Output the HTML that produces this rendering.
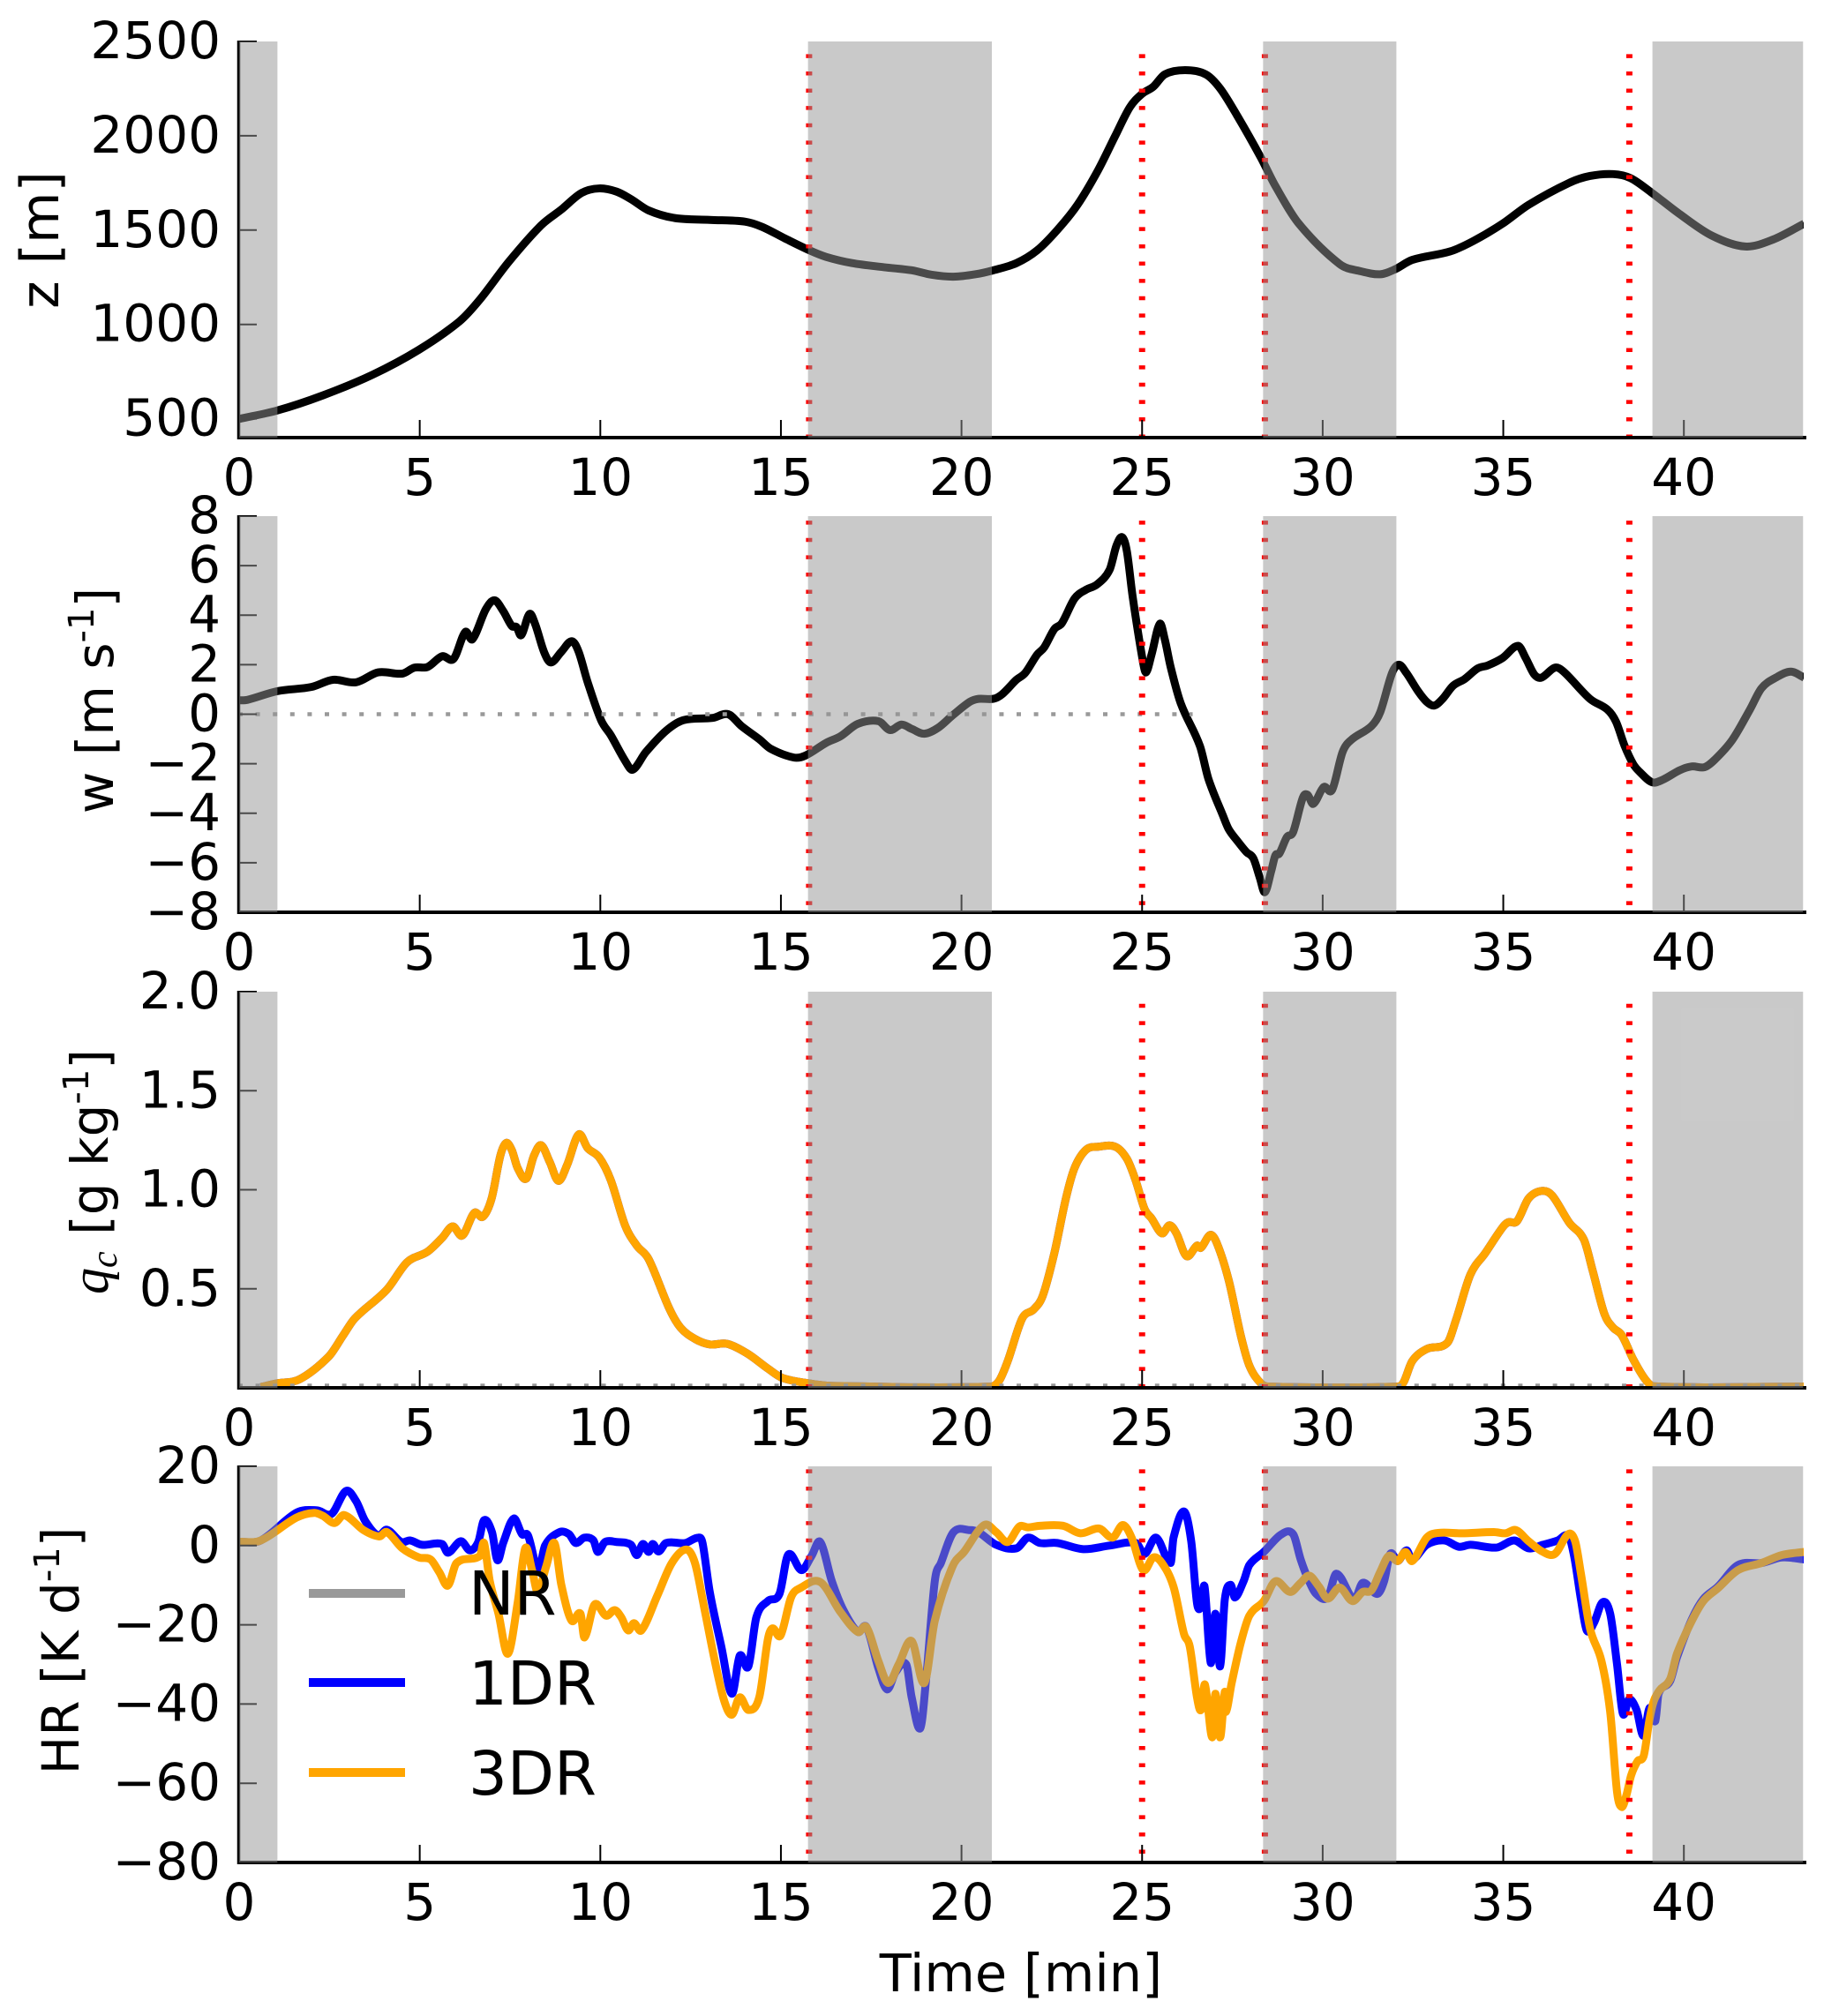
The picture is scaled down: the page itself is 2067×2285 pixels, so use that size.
<!DOCTYPE html>
<html lang="en">
<head>
<meta charset="utf-8">
<title>Cloud parcel time series</title>
<style>
html,body{margin:0;padding:0;background:#fff;}
svg{display:block;}
text{font-family:"DejaVu Sans","Liberation Sans",sans-serif;fill:#000;}
</style>
</head>
<body>
<svg id="figure" xmlns="http://www.w3.org/2000/svg" width="2067" height="2285" viewBox="0 0 2067 2285">
  <defs id="clips"></defs>
  <g id="plots"></g>
  <g id="titles">
    <text transform="translate(66,272) rotate(-90)" text-anchor="middle" font-size="60">z [m]</text>
    <text transform="translate(128,794) rotate(-90)" text-anchor="middle" font-size="58">w [m s<tspan font-size="40" dy="-22">-1</tspan><tspan dy="22">]</tspan></text>
    <text transform="translate(122,1328) rotate(-90)" text-anchor="middle" font-size="58"><tspan font-family="Liberation Serif" font-style="italic" font-size="60">q</tspan><tspan font-family="Liberation Serif" font-style="italic" font-size="42" dy="10">c</tspan><tspan dy="-10"> [g kg</tspan><tspan font-size="40" dy="-22">-1</tspan><tspan dy="22">]</tspan></text>
    <text transform="translate(89,1871) rotate(-90)" text-anchor="middle" font-size="58">HR [K d<tspan font-size="40" dy="-22">-1</tspan><tspan dy="22">]</tspan></text>
    <text x="1157" y="2257" text-anchor="middle" font-size="59">Time [min]</text>
  </g>
  <g id="legend">
    <g>
      <line x1="350" x2="459" y1="1806" y2="1806" stroke="#999999" stroke-width="10"></line>
      <text x="531" y="1830" font-size="69">NR</text>
    </g>
    <g>
      <line x1="350" x2="459" y1="1907" y2="1907" stroke="#0000ff" stroke-width="10"></line>
      <text x="531" y="1932" font-size="69">1DR</text>
    </g>
    <g>
      <line x1="350" x2="459" y1="2009" y2="2009" stroke="#ffa500" stroke-width="10"></line>
      <text x="531" y="2034" font-size="69">3DR</text>
    </g>
  </g>
</svg>
<script>
// ---- data ----
const xTickValues = [0,5,10,15,20,25,30,35,40];
const zTickValues = [500,1000,1500,2000,2500];
const wTickValues = [-8,-6,-4,-2,0,2,4,6,8];
const qcTickValues = [0.5,1.0,1.5,2.0];
const hrTickValues = [-80,-60,-40,-20,0,20];
const shadedStart = [0,15.75,28.35,39.13];
const shadedEnd = [1.06,20.84,32.04,43.3];
const eventTimes = [15.78,25.0,28.4,38.49];

const zTime = [0,1.06,2.32,3.69,4.98,6.1,6.67,7.47,8.36,8.92,9.48,9.97,10.45,10.85,11.34,12.06,13.03,14,14.48,15.12,15.8,16.25,16.97,17.86,18.62,19.18,19.78,20.39,20.88,21.52,22.09,22.65,23.21,23.78,24.26,24.66,24.99,25.31,25.63,26.19,26.76,27.16,27.65,28.29,28.69,29.34,30.47,31.03,31.59,32,32.48,33.53,34.17,34.98,35.7,36.83,37.4,38.04,38.52,39.09,39.89,40.78,41.7,42.47,43.33];
const zValues = [499,544,624,733,866,1016,1133,1333,1525,1609,1697,1721,1704,1664,1604,1564,1554,1545,1517,1455,1392,1358,1325,1303,1287,1263,1253,1266,1287,1325,1392,1500,1634,1817,2001,2151,2221,2260,2326,2348,2326,2251,2101,1884,1734,1534,1320,1283,1266,1292,1342,1387,1442,1534,1634,1751,1787,1797,1776,1701,1584,1470,1413,1450,1534];

const wTime = [0,.23,1.06,2.0,2.6,3.24,3.85,4.52,4.85,5.22,5.62,5.94,6.26,6.46,6.83,7.07,7.31,7.55,7.68,7.81,8.04,8.2,8.44,8.63,8.92,9.21,9.4,9.65,10.02,10.29,10.69,10.9,11.26,11.82,12.3,13.11,13.54,13.91,14.4,14.72,15.36,15.68,16.25,16.65,17.13,17.7,18.02,18.34,18.63,18.97,19.35,19.75,20.23,20.47,20.88,21.12,21.52,21.76,22.09,22.29,22.57,22.78,23.13,23.45,23.75,24.1,24.29,24.45,24.58,24.74,25.02,25.11,25.26,25.49,25.63,25.79,26.07,26.6,26.84,27.24,27.4,27.65,27.89,28.08,28.26,28.4,28.58,28.69,28.8,29.01,29.18,29.45,29.58,29.74,30.03,30.26,30.55,30.79,31.35,31.59,31.92,32.11,32.32,32.64,32.88,33.09,33.32,33.61,33.93,34.29,34.57,34.98,35.41,35.62,35.86,36.06,36.43,36.67,37.4,37.88,38.12,38.36,38.6,38.77,39.12,39.41,39.89,40.22,40.57,40.86,41.34,41.83,42.15,42.55,42.96,43.33];
const wValues = [.56,.58,.93,1.1,1.39,1.29,1.69,1.64,1.88,1.91,2.34,2.24,3.32,3.03,4.24,4.6,4.17,3.56,3.52,3.19,4.05,3.62,2.52,2.09,2.52,2.95,2.52,1.29,-.24,-.85,-1.89,-2.24,-1.53,-.67,-.24,-.15,0,-.48,-1.01,-1.4,-1.75,-1.67,-1.16,-.89,-.39,-.28,-.64,-.42,-.6,-.79,-.55,-.05,.5,.62,.62,.8,1.39,1.66,2.4,2.7,3.44,3.68,4.67,5.03,5.24,5.83,6.81,7.15,6.57,4.73,2.15,1.69,2.4,3.65,3.01,1.91,.44,-1.28,-2.63,-4.1,-4.65,-5.14,-5.57,-5.82,-6.61,-7.19,-6.31,-5.7,-5.63,-4.96,-4.77,-3.37,-3.25,-3.62,-2.94,-3.06,-1.53,-1.04,-.48,.07,1.66,2.0,1.66,.93,.5,.35,.62,1.15,1.42,1.85,1.97,2.27,2.76,2.27,1.6,1.48,1.88,1.72,.62,.19,-.3,-1.28,-2.02,-2.32,-2.75,-2.65,-2.26,-2.11,-2.14,-1.83,-1.04,.19,1.05,1.48,1.72,1.48];

const qcTime = [.6,1.06,1.67,2.48,2.88,3.2,4.09,4.65,5.22,5.62,5.91,6.18,6.51,6.75,6.99,7.23,7.39,7.55,7.71,7.95,8.16,8.36,8.6,8.84,9.08,9.4,9.65,9.97,10.29,10.69,11.01,11.34,11.9,12.22,12.62,13.03,13.51,14.07,14.64,15.04,15.76,16.4,20.8,21.04,21.28,21.68,22.0,22.25,22.57,22.89,23.13,23.45,23.78,24.26,24.58,24.82,25.07,25.26,25.55,25.76,25.95,26.23,26.52,26.63,26.89,27.08,27.4,27.73,27.97,28.29,28.53,32.08,32.24,32.48,32.88,33.45,33.69,34.09,34.5,34.98,35.14,35.38,35.7,36.06,36.35,36.83,37.23,37.48,37.8,38.04,38.28,38.6,38.93,39.17,43.33];
const qcValues = [.004,.023,.043,.158,.265,.35,.496,.634,.688,.757,.815,.769,.883,.864,.956,1.171,1.236,1.2,1.11,1.056,1.171,1.225,1.14,1.045,1.125,1.279,1.21,1.163,1.048,.818,.718,.649,.404,.304,.247,.219,.222,.173,.097,.05,.023,.01,.006,.035,.135,.35,.396,.465,.68,.956,1.11,1.202,1.217,1.217,1.156,1.048,.902,.856,.78,.821,.78,.665,.718,.707,.772,.726,.542,.266,.112,.023,.006,.006,.028,.135,.196,.227,.342,.572,.68,.81,.836,.841,.956,.994,.972,.833,.749,.588,.373,.304,.266,.143,.043,.008,.006];

const hr1drTime = [0,.6,1.59,2.16,2.56,2.96,3.24,3.49,3.85,4.09,4.49,4.73,5.06,5.62,5.78,6.14,6.39,6.62,6.78,7,7.15,7.31,7.6,7.83,8,8.28,8.47,8.87,9.13,9.32,9.56,9.81,9.93,10.13,10.45,10.85,11.01,11.18,11.34,11.45,11.61,11.82,12.35,12.71,12.83,13.03,13.35,13.64,13.86,14.1,14.32,14.64,14.96,15.2,15.57,15.85,16.09,16.41,16.73,17.13,17.37,17.7,17.94,18.18,18.47,18.62,18.86,19.02,19.26,19.43,19.78,20.23,20.47,20.96,21.52,21.84,22.17,22.65,23.37,24.1,24.83,25.07,25.39,25.79,25.87,26.16,26.36,26.52,26.63,26.73,26.9,27.03,27.16,27.29,27.45,27.57,27.81,27.97,28.37,28.85,29.18,29.39,29.58,29.82,30.14,30.38,30.87,31.11,31.51,31.7,31.87,32.08,32.32,32.48,32.88,33.37,33.77,34.09,34.82,35.3,35.7,36.1,36.51,36.8,36.96,37.15,37.31,37.51,37.75,37.96,38.15,38.31,38.48,38.69,38.88,39.05,39.21,39.3,39.62,39.81,40.22,40.54,40.94,41.5,42.15,42.71,43.33];
const hr1drValues = [.93,1.3,8.3,8.9,8,13.8,11.2,6.2,2.5,4,.9,1.3,.2,.4,-1.8,1.1,-1.2,.9,6.4,3.4,-3.7,.65,6.8,2.9,2.5,-6.2,0,3.4,2.9,.65,2,1.3,-1.6,.9,.9,.2,-2.4,.4,-1.6,.4,-1.5,.65,.65,2,.65,-11.7,-25.5,-37.4,-27.8,-30.5,-18.1,-14,-12.2,-2.3,-6.2,-2.6,.9,-9,-16.3,-21.8,-20.6,-31,-36.3,-31.9,-30,-38.3,-46.1,-33.7,-9,-4.4,3.4,3.9,3.4,.2,-.7,2,.65,.65,-.9,0,.65,-2.1,2,-4.4,2,8.6,1.1,-14.5,-15.4,-10.4,-29.6,-17.2,-30.5,-13.6,-9.9,-13.1,-9,-4.9,-1.6,2.8,2.9,-3.5,-8.1,-12.2,-13.1,-7.1,-13.6,-9.4,-12.2,-9,-2.1,-3.9,-1.2,-3.6,.2,1.3,-.3,.2,-.5,1.3,-.7,.2,1.3,2.4,-2.6,-13.6,-21.4,-19.5,-14.3,-17.2,-30,-42.4,-38.8,-41.5,-48,-41,-44.3,-37.4,-34.2,-28.2,-18.6,-13.5,-10.4,-4.9,-4.4,-3,-3.5];

const hr3drTime = [0,.6,1.59,2.08,2.32,2.64,2.91,3.45,3.88,4.09,4.52,4.98,5.3,5.54,5.78,6.02,6.67,6.78,6.94,7.18,7.44,7.71,7.92,8.11,8.27,8.5,8.73,8.92,9.2,9.45,9.56,9.84,10.16,10.4,10.58,10.77,10.93,11.14,11.58,11.98,12.38,12.62,12.87,13.19,13.43,13.64,13.86,14.1,14.4,14.64,14.77,14.99,15.28,15.52,16.09,16.65,17.13,17.37,17.7,17.97,18.26,18.62,18.97,19.26,19.75,20.07,20.63,20.96,21.28,21.6,21.84,22.17,22.81,23.29,23.81,24.18,24.47,24.71,25.03,25.31,25.55,25.87,26.16,26.32,26.52,26.63,26.74,26.94,27.03,27.16,27.29,27.32,27.48,27.73,27.97,28.37,28.69,29.1,29.39,29.63,29.9,30.14,30.47,30.82,31.11,31.35,31.59,31.83,32.08,32.29,32.48,32.88,33.2,33.85,34.74,35.06,35.35,35.7,36.1,36.43,36.8,36.99,37.15,37.4,37.72,37.96,38.15,38.28,38.41,38.54,38.72,38.89,39.05,39.17,39.33,39.62,39.81,40.22,40.54,40.94,41.5,42.15,42.71,43.33];
const hr3drValues = [.93,1.3,7.07,8.26,7.5,5.7,7.7,3.86,2.3,3.4,-.7,-3,-3.5,-6.7,-10.1,-4.4,-2.6,.65,-9,-17.2,-27.3,-14.5,-.7,-6.2,-11.7,-5.3,.65,-9.9,-18.9,-17.2,-23.2,-14.9,-17.7,-16.3,-18.1,-21.4,-19.6,-21.4,-12.6,-4.4,-1,-4.4,-15.4,-30,-39.2,-42.7,-38.3,-41.5,-38.3,-23.6,-20.9,-22.7,-13.1,-10.8,-9.2,-16.8,-21.8,-20.6,-29.2,-34.7,-30,-24.1,-34.7,-19,-5.3,-1.6,5.2,3.4,.9,4.8,4.6,5,5,3.1,4.3,2,5.2,2,-6.2,-3,-4.4,-10.4,-22.3,-25.5,-38.3,-41.5,-35.1,-48.4,-37.4,-48.4,-36.9,-42,-34.7,-24.6,-17.7,-14,-9,-11.7,-9.4,-7.6,-10.4,-13.4,-10.6,-14,-11.7,-11.3,-6.7,-2.6,-3.9,-1.6,-3.9,2,3.2,3.1,3.4,3.1,3.9,1.1,-1.6,-2.1,2.9,1.1,-7.1,-20.9,-29.2,-42,-62.2,-66,-63,-58,-54.4,-53,-43.8,-39.2,-36.5,-33.7,-27.3,-19,-14,-10.8,-6.2,-4.4,-2.4,-1.6];

// ---- axis functions ----
const SVGNS = 'http://www.w3.org/2000/svg';
const X0 = 271, PX_PER_MIN = 40.93, XEND = 2044;
function xPos(t){ return X0 + t * PX_PER_MIN; }
function yScale(top, vmin, vmax){ return function(v){ return top + 449 * (vmax - v) / (vmax - vmin); }; }
function make(tag, parent){ const e = document.createElementNS(SVGNS, tag); parent.appendChild(e); return e; }
// smooth curve through the data points (cubic Hermite with neighbour slopes)
function pathOf(times, values, y){
  const n = times.length;
  const px = [], py = [], m = [];
  for (let i = 0; i < n; i++) { px.push(xPos(times[i])); py.push(y(values[i])); }
  for (let i = 0; i < n; i++) {
    const a = Math.max(i - 1, 0), b = Math.min(i + 1, n - 1);
    m.push((py[b] - py[a]) / (px[b] - px[a]));
  }
  let d = 'M' + px[0].toFixed(2) + ' ' + py[0].toFixed(2);
  for (let i = 0; i < n - 1; i++) {
    const h = (px[i + 1] - px[i]) / 3;
    d += 'C' + (px[i] + h).toFixed(2) + ' ' + (py[i] + m[i] * h).toFixed(2) + ' ' +
         (px[i + 1] - h).toFixed(2) + ' ' + (py[i + 1] - m[i + 1] * h).toFixed(2) + ' ' +
         px[i + 1].toFixed(2) + ' ' + py[i + 1].toFixed(2);
  }
  return d;
}
function minusFmt(v){ return v < 0 ? '\u2212' + Math.abs(v) : String(v); }

const plots = document.getElementById('plots');
const defs = document.getElementById('clips');

function drawPanel(key, top, vmin, vmax, yTicks, fmt, firstDotOffset, series, guide){
  const y = yScale(top, vmin, vmax);
  const bottom = top + 449;
  const g = make('g', plots);
  
  

  const clip = make('clipPath', defs);
  clip.setAttribute('id', 'clip-' + key);
  const cr = make('rect', clip);
  cr.setAttribute('x', X0);
  cr.setAttribute('y', top);
  cr.setAttribute('width', XEND - X0);
  cr.setAttribute('height', 449);

  // series
  series.forEach(function(s){
    const p = make('path', g);
    
    
    p.setAttribute('d', pathOf(s.t, s.v, y));
    p.setAttribute('fill', 'none');
    p.setAttribute('stroke', s.color);
    p.setAttribute('stroke-width', '9');
    p.setAttribute('stroke-linejoin', 'round');
    p.setAttribute('clip-path', 'url(#clip-' + key + ')');
  });

  // gray dotted guide
  if (guide) {
    const gl = make('line', g);
    
    
    gl.setAttribute('x1', 270);
    gl.setAttribute('x2', xPos(guide.end));
    gl.setAttribute('y1', y(guide.value));
    gl.setAttribute('y2', y(guide.value));
    gl.setAttribute('stroke', '#999999');
    gl.setAttribute('stroke-width', guide.width);
    gl.setAttribute('stroke-dasharray', '5 14.6');
  }

  // red event lines
  eventTimes.forEach(function(t){
    const r = make('line', g);
    
    
    r.setAttribute('x1', xPos(t));
    r.setAttribute('x2', xPos(t));
    r.setAttribute('y1', top + firstDotOffset - 2.25);
    r.setAttribute('y2', bottom);
    r.setAttribute('stroke', '#ff0000');
    r.setAttribute('stroke-width', '7');
    r.setAttribute('stroke-dasharray', '4.5 15.1');
  });

  // ticks and labels
  xTickValues.forEach(function(t){
    const tk = make('line', g);
    
    
    tk.setAttribute('x1', xPos(t));
    tk.setAttribute('x2', xPos(t));
    tk.setAttribute('y1', bottom);
    tk.setAttribute('y2', bottom - 20);
    tk.setAttribute('stroke', '#000');
    tk.setAttribute('stroke-width', '2');
    const lb = make('text', g);
    
    
    lb.setAttribute('x', xPos(t));
    lb.setAttribute('y', bottom + 65);
    lb.setAttribute('text-anchor', 'middle');
    lb.setAttribute('font-size', '58');
    lb.textContent = String(t);
  });
  yTicks.forEach(function(v){
    const tk = make('line', g);
    
    
    tk.setAttribute('x1', X0);
    tk.setAttribute('x2', X0 + 20);
    tk.setAttribute('y1', y(v));
    tk.setAttribute('y2', y(v));
    tk.setAttribute('stroke', '#000');
    tk.setAttribute('stroke-width', '2');
    const lb = make('text', g);
    
    
    lb.setAttribute('x', 250);
    lb.setAttribute('y', y(v) + 19);
    lb.setAttribute('text-anchor', 'end');
    lb.setAttribute('font-size', '58');
    lb.textContent = fmt(v);
  });

  // spines
  const sb = make('line', g);
  
  
  sb.setAttribute('x1', 269);
  sb.setAttribute('x2', 2047);
  sb.setAttribute('y1', bottom);
  sb.setAttribute('y2', bottom);
  sb.setAttribute('stroke', '#000');
  sb.setAttribute('stroke-width', '4');
  const sl = make('line', g);
  
  
  sl.setAttribute('x1', 270.5);
  sl.setAttribute('x2', 270.5);
  sl.setAttribute('y1', top - 1);
  sl.setAttribute('y2', bottom + 2);
  sl.setAttribute('stroke', '#000');
  sl.setAttribute('stroke-width', '3.5');

  // translucent shaded periods, on top of everything in the axes
  shadedStart.forEach(function(s, i){
    const b = make('rect', g);
    
    
    const x1 = i === 0 ? X0 : xPos(s);
    b.setAttribute('x', x1);
    b.setAttribute('y', top);
    b.setAttribute('width', xPos(shadedEnd[i]) - x1);
    b.setAttribute('height', 449);
    b.setAttribute('fill', 'rgb(148,148,148)');
    b.setAttribute('fill-opacity', '0.5');
  });
}

drawPanel('z', 47, 400, 2500, zTickValues, String, 16.6,
  [{name:'nr', t:zTime, v:zValues, color:'#000000'}], null);
drawPanel('w', 585, -8, 8, wTickValues, minusFmt, 7.4,
  [{name:'nr', t:wTime, v:wValues, color:'#000000'}], {value:0, end:26.4, width:4.5});
drawPanel('qc', 1124, 0, 2, qcTickValues, function(v){ return v.toFixed(1); }, 16,
  [{name:'1dr', t:qcTime, v:qcValues, color:'#0000ff'},
   {name:'3dr', t:qcTime, v:qcValues, color:'#ffa500'}], {value:0.008, end:43.3, width:6});
drawPanel('hr', 1662, -80, 20, hrTickValues, minusFmt, 5.6,
  [{name:'1dr', t:hr1drTime, v:hr1drValues, color:'#0000ff'},
   {name:'3dr', t:hr3drTime, v:hr3drValues, color:'#ffa500'}], null);
</script>
</body>
</html>
